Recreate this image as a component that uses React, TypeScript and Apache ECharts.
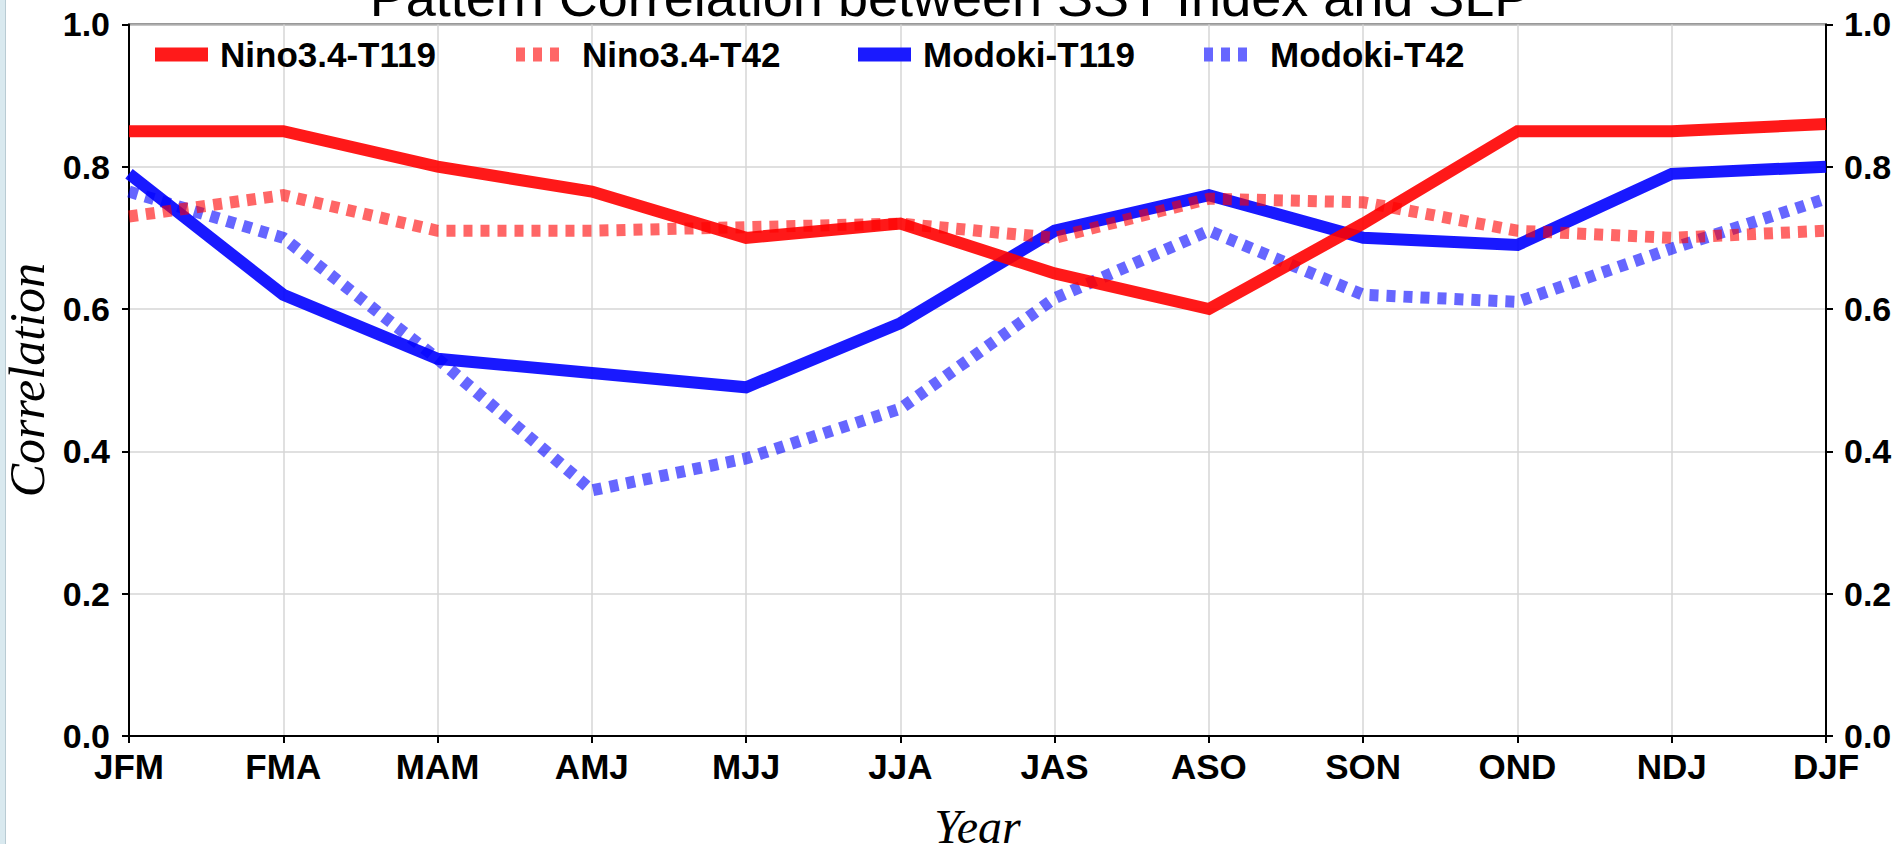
import React, { useEffect, useRef } from "react";
import * as echarts from "echarts";

const categories = ["JFM", "FMA", "MAM", "AMJ", "MJJ", "JJA", "JAS", "ASO", "SON", "OND", "NDJ", "DJF"];
const seriesNames = ["Nino3.4-T119", "Nino3.4-T42", "Modoki-T119", "Modoki-T42"];
const nino119 = [0.85, 0.85, 0.8, 0.765, 0.7, 0.72, 0.65, 0.6, 0.72, 0.85, 0.85, 0.86];
const nino42 = [0.73, 0.76, 0.71, 0.71, 0.715, 0.72, 0.7, 0.755, 0.75, 0.71, 0.7, 0.71];
const modoki119 = [0.79, 0.62, 0.53, 0.51, 0.49, 0.58, 0.71, 0.76, 0.7, 0.69, 0.79, 0.8];
const modoki42 = [0.765, 0.7, 0.53, 0.345, 0.39, 0.46, 0.615, 0.71, 0.62, 0.61, 0.685, 0.755];
const yTicks = { min: 0, max: 1, interval: 0.2 };
const titleText = "Pattern Correlation between SST Index and SLP";
const xName = "Year";
const yName = "Correlation";

const SANS = "'Liberation Sans', Arial, Helvetica, sans-serif";
const SERIF = "'Liberation Serif', 'Times New Roman', serif";

const solidIcon = "path://M0,0h53v14h-53zM60,7l0,0";
const dotIcon = "path://M0,0h9v14h-9zM17,0h9v14h-9zM34,0h9v14h-9zM61,7l0,0";

export default function App() {
  const ref = useRef<HTMLDivElement>(null);
  useEffect(() => {
    if (!ref.current) return;
    const chart = echarts.init(ref.current, null, { renderer: "svg" });
    const lineSeries = (name: string, data: number[], color: string, dotted: boolean, z: number) => ({
      name,
      type: "line",
      data,
      symbol: "none",
      showSymbol: false,
      z,
      itemStyle: { color },
      lineStyle: {
        color,
        width: 12,
        opacity: dotted ? 0.6 : 0.9,
        type: dotted ? [9, 8] : "solid",
        cap: "butt",
        join: "miter",
      },
      emphasis: { disabled: true },
    });
    const legendItem = (name: string, icon: string, color: string, left: number, w: number) => ({
      data: [{ name, icon, itemStyle: { color, borderWidth: 0 } }],
      left,
      top: 37,
      padding: 0,
      itemWidth: w,
      itemHeight: 14,
      selectedMode: false,
      textStyle: { fontFamily: SANS, fontWeight: "bold", fontSize: 35, color: "#000" },
    });
    chart.setOption({
      animation: false,
      backgroundColor: "#fff",
      grid: {
        left: 129,
        right: 75,
        top: 24.4,
        height: 711.5,
        show: true,
        borderColor: "#333",
        borderWidth: 2,
        containLabel: false,
        outerBoundsMode: "none",
      },
      legend: [
        legendItem(seriesNames[0], solidIcon, "#ff1a1a", 155, 60),
        legendItem(seriesNames[1], dotIcon, "#ff6666", 516, 61),
        legendItem(seriesNames[2], solidIcon, "#1a1aff", 858, 60),
        legendItem(seriesNames[3], dotIcon, "#6666ff", 1204, 61),
      ],
      xAxis: {
        type: "category",
        data: categories,
        boundaryGap: false,
        name: xName,
        nameLocation: "middle",
        nameGap: 67,
        nameTextStyle: { fontFamily: SERIF, fontStyle: "italic", fontSize: 48, color: "#000" },
        axisLine: { show: true, lineStyle: { color: "#000", width: 2 } },
        axisTick: { show: true, length: 7, lineStyle: { color: "#000", width: 2 } },
        axisLabel: { fontFamily: SANS, fontWeight: "bold", fontSize: 35, color: "#000", margin: 13 },
        splitLine: { show: true, lineStyle: { color: "#d6d6d6", width: 1.5 } },
      },
      yAxis: [
        {
          type: "value",
          ...yTicks,
          position: "left",
          name: yName,
          nameLocation: "middle",
          nameGap: 77,
          nameTextStyle: { fontFamily: SERIF, fontStyle: "italic", fontSize: 50, color: "#000" },
          axisLine: { show: true, onZero: false, lineStyle: { color: "#000", width: 2 } },
          axisTick: { show: true, length: 7, lineStyle: { color: "#000", width: 2 } },
          axisLabel: {
            fontFamily: SANS,
            fontWeight: "bold",
            fontSize: 34,
            color: "#000",
            margin: 19,
            formatter: (v: number) => v.toFixed(1),
          },
          splitLine: { show: true, lineStyle: { color: "#d6d6d6", width: 1.5 } },
        },
        {
          type: "value",
          ...yTicks,
          position: "right",
          axisLine: { show: true, onZero: false, lineStyle: { color: "#000", width: 2 } },
          axisTick: { show: true, length: 7, lineStyle: { color: "#000", width: 2 } },
          axisLabel: {
            fontFamily: SANS,
            fontWeight: "bold",
            fontSize: 34,
            color: "#000",
            margin: 18,
            formatter: (v: number) => v.toFixed(1),
          },
          splitLine: { show: false },
        },
      ],
      graphic: [
        {
          type: "text",
          left: "center",
          top: -30,
          style: { text: titleText, fontFamily: SANS, fontSize: 54, fill: "#000" },
        },
        { type: "rect", shape: { x: 0, y: 0, width: 5, height: 844 }, style: { fill: "#d9e9ef" } },
        { type: "line", shape: { x1: 5.5, y1: 0, x2: 5.5, y2: 844 }, style: { stroke: "#b9cbd3", lineWidth: 1 } },
      ],
      series: [
        lineSeries(seriesNames[0], nino119, "#ff0000", false, 4),
        lineSeries(seriesNames[1], nino42, "#ff0000", true, 3),
        lineSeries(seriesNames[2], modoki119, "#0000ff", false, 2),
        lineSeries(seriesNames[3], modoki42, "#0000ff", true, 2),
      ],
    });
    return () => chart.dispose();
  }, []);
  return (
    <div
      ref={ref}
      style={{ position: "absolute", left: 0, top: 0, width: 1901, height: 844, background: "#fff" }}
    />
  );
}
